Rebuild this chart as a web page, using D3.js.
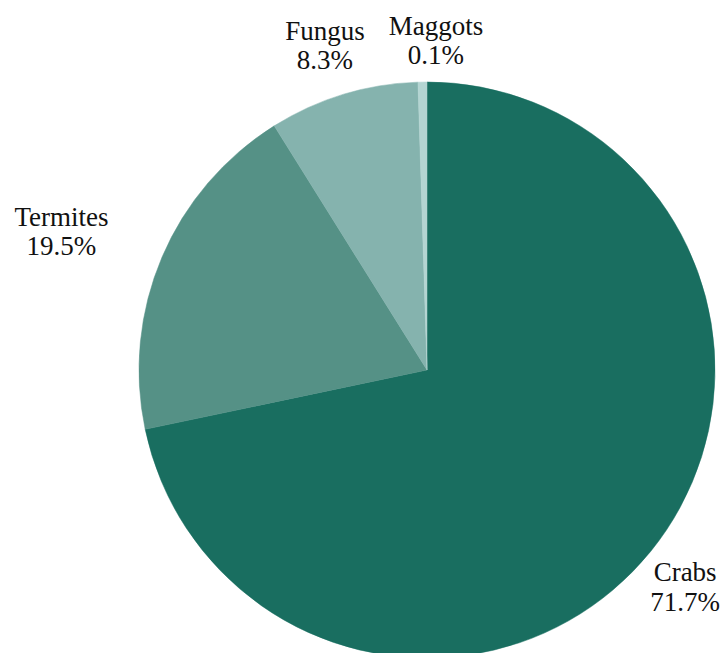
<!DOCTYPE html>
<html>
<head>
<meta charset="utf-8">
<script src="https://d3js.org/d3.v7.min.js"></script>
<style>
  body { margin: 0; background: #fff; }
  text { font-family: "Liberation Serif", "DejaVu Serif", serif; fill: #111; }
</style>
</head>
<body>
<div id="chart"></div>
<script>
// categories, slice shares (as drawn) and printed percentages
var categories = ["Crabs", "Termites", "Fungus", "Maggots"];
var shares = [71.7, 19.4, 8.4, 0.5];
var pctLabels = ["71.7%", "19.5%", "8.3%", "0.1%"];
var colors = ["#196e60", "#559186", "#85b3ae", "#b4d5d2"];

var width = 723, height = 653;
var cx = 427, cy = 370, radius = 288;

var svg = d3.select("#chart")
  .append("svg")
    .attr("width", width)
    .attr("height", height);

var g = svg.append("g")
  .attr("transform", "translate(" + cx + "," + cy + ")");

var data = categories.map(function(c, i) {
  return { name: c, value: shares[i], label: pctLabels[i], color: colors[i] };
});

var pie = d3.pie()
  .sort(null)
  .value(function(d) { return d.value; });

var arc = d3.arc()
  .innerRadius(0)
  .outerRadius(radius);

var arcs = pie(data);

g.selectAll("path")
  .data(arcs)
  .enter()
  .append("path")
    .attr("d", arc)
    .attr("fill", function(d) { return d.data.color; })
    .attr("stroke", function(d) { return d.data.color; })
    .attr("stroke-width", 0.5);

// labels outside the pie, pushed out by their own box size
var labels = g.selectAll("g.lbl")
  .data(arcs)
  .enter()
  .append("g")
    .attr("class", "lbl");

labels.append("text")
  .attr("text-anchor", "middle")
  .style("font-size", "27px")
  .each(function(d) {
    var t = d3.select(this);
    t.append("tspan").attr("x", 0).attr("dy", "-0.15em").text(d.data.name);
    t.append("tspan").attr("x", 0).attr("dy", "1.1em").text(d.data.label);
  });

var boxes = [];
labels.each(function(d) {
  var bb = this.getBBox();
  var hw = bb.width / 2, hh = bb.height / 2;
  var a = (d.startAngle + d.endAngle) / 2;
  var s = Math.sin(a), c = -Math.cos(a);
  var r = radius + 11 + Math.abs(s) * hw + Math.abs(c) * hh;
  var x = s * r + s * Math.abs(s) * hw, y = c * r;
  // keep inside the svg
  x = Math.max(hw + 6 - cx, Math.min(width - cx - hw - 3, x));
  boxes.push({ el: this, bb: bb, hw: hw, hh: hh, x: x, y: y });
});

// nudge neighbours apart when they collide
for (var i = 1; i < boxes.length; i++) {
  var p = boxes[i - 1], b = boxes[i];
  if (Math.abs(p.y - b.y) < p.hh + b.hh) {
    var gap = (b.x - b.hw) - (p.x + p.hw);
    if (b.x > p.x && gap < 24) b.x += 24 - gap;
  }
}

boxes.forEach(function(b) {
  d3.select(b.el).attr("transform",
    "translate(" + (b.x - (b.bb.x + b.hw)) + "," + (b.y - (b.bb.y + b.hh)) + ")");
});
</script>
</body>
</html>
